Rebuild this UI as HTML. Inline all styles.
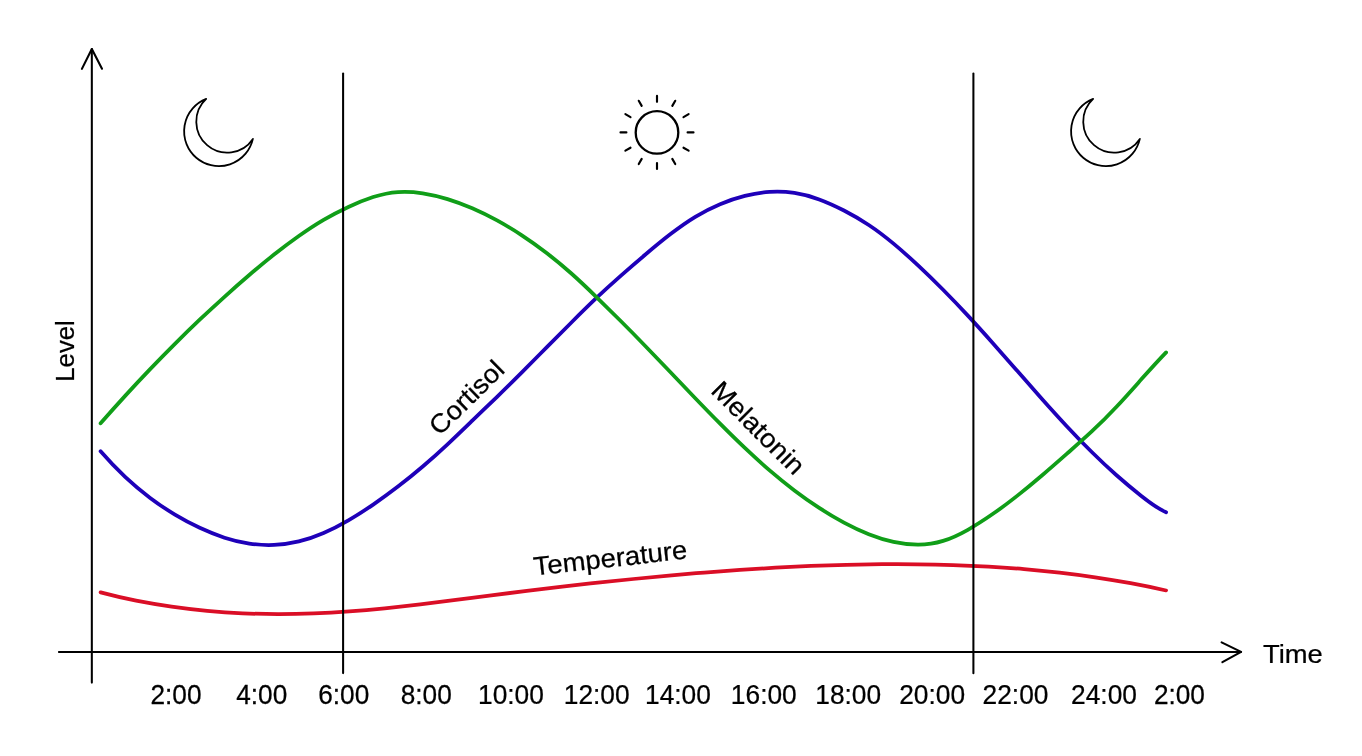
<!DOCTYPE html>
<html lang="en"><head><meta charset="utf-8">
<title>Circadian rhythm: cortisol, melatonin and temperature</title>
<style>
html,body{margin:0;padding:0;background:#fff;}
body{width:1362px;height:756px;overflow:hidden;}
svg{display:block;}
text{font-family:"Liberation Sans",sans-serif;fill:#000;stroke:#000;stroke-width:0.25;}
.ax{stroke:#000;stroke-width:2.05;fill:none;stroke-linecap:round;}
.ar{stroke-linejoin:round;stroke-linecap:round;stroke-width:2.1;}
.ic{stroke:#000;stroke-width:1.8;fill:none;stroke-linejoin:round;stroke-linecap:round;}
.cv{fill:none;stroke-linecap:round;stroke-linejoin:round;}
</style></head><body>
<svg width="1362" height="756" viewBox="0 0 1362 756">
<rect width="1362" height="756" fill="#fff"/>
<path class="cv" stroke="#1e00b9" stroke-width="3.75" d="M100.60 451.27C108.86 460.77 117.12 469.35 125.38 477.08C133.64 484.81 141.90 491.70 150.16 497.91C158.42 504.12 166.68 509.64 174.94 514.60C183.20 519.56 191.46 523.94 199.72 527.79C207.98 531.64 216.24 534.99 224.50 537.67C232.76 540.36 241.01 542.36 249.27 543.58C257.53 544.80 265.79 545.26 274.05 544.91C282.31 544.57 290.57 543.42 298.83 541.44C307.09 539.45 315.35 536.60 323.61 533.02C331.87 529.45 340.13 525.17 348.39 520.37C356.65 515.57 364.91 510.25 373.17 504.60C381.43 498.95 389.69 492.95 397.95 486.60C406.21 480.24 414.47 473.54 422.73 466.49C430.99 459.44 439.25 452.02 447.51 444.29C455.77 436.56 464.03 428.57 472.29 420.60C480.55 412.64 488.81 404.77 497.07 396.78C505.32 388.80 513.58 380.65 521.84 372.37C530.10 364.09 538.36 355.71 546.62 347.37C554.88 339.02 563.14 330.70 571.40 322.47C579.66 314.25 587.92 306.12 596.18 298.23C604.44 290.35 612.70 282.84 620.96 275.60C629.22 268.36 637.48 261.28 645.74 254.29C654.00 247.30 662.26 240.47 670.52 234.10C678.78 227.73 687.04 221.84 695.30 216.83C703.56 211.83 711.82 207.65 720.08 204.19C728.34 200.74 736.60 198.00 744.86 195.92C753.12 193.84 761.38 192.44 769.63 191.90C777.89 191.36 786.15 191.68 794.41 192.92C802.67 194.17 810.93 196.39 819.19 199.42C827.45 202.46 835.71 206.26 843.97 210.51C852.23 214.77 860.49 219.53 868.75 225.02C877.01 230.51 885.27 236.80 893.53 243.66C901.79 250.52 910.05 257.91 918.31 265.63C926.57 273.34 934.83 281.42 943.09 289.76C951.35 298.11 959.61 306.74 967.87 315.61C976.13 324.49 984.39 333.63 992.65 342.91C1000.91 352.20 1009.17 361.63 1017.43 371.05C1025.69 380.47 1033.94 389.89 1042.20 399.16C1050.46 408.43 1058.72 417.56 1066.98 426.41C1075.24 435.26 1083.50 443.84 1091.76 452.03C1100.02 460.21 1108.28 467.97 1116.54 475.27C1124.80 482.57 1133.06 489.45 1141.32 495.98C1149.58 502.51 1157.84 508.59 1166.10 512.32"/>
<path class="cv" stroke="#109e18" stroke-width="3.75" d="M100.60 423.34C108.86 413.91 117.12 404.67 125.38 395.64C133.64 386.60 141.90 377.77 150.16 369.14C158.42 360.51 166.68 352.08 174.94 343.84C183.20 335.61 191.46 327.57 199.72 319.72C207.98 311.88 216.24 304.23 224.50 296.77C232.76 289.31 241.01 282.04 249.27 274.98C257.53 267.93 265.79 261.11 274.05 254.59C282.31 248.08 290.57 241.87 298.83 236.05C307.09 230.22 315.35 224.74 323.61 219.89C331.87 215.04 340.13 210.85 348.39 206.98C356.65 203.10 364.91 199.68 373.17 197.03C381.43 194.39 389.69 192.60 397.95 192.04C406.21 191.49 414.47 192.00 422.73 193.28C430.99 194.55 439.25 196.58 447.51 199.11C455.77 201.64 464.03 204.72 472.29 208.29C480.55 211.86 488.81 215.92 497.07 220.44C505.32 224.96 513.58 229.91 521.84 235.32C530.10 240.73 538.36 246.60 546.62 252.96C554.88 259.31 563.14 266.16 571.40 273.52C579.66 280.89 587.92 288.76 596.18 296.81C604.44 304.86 612.70 313.03 620.96 321.27C629.22 329.52 637.48 337.90 645.74 346.43C654.00 354.96 662.26 363.62 670.52 372.29C678.78 380.96 687.04 389.65 695.30 398.25C703.56 406.86 711.82 415.37 720.08 423.69C728.34 432.00 736.60 440.13 744.86 447.95C753.12 455.77 761.38 463.28 769.63 470.39C777.89 477.50 786.15 484.20 794.41 490.46C802.67 496.73 810.93 502.55 819.19 507.92C827.45 513.29 835.71 518.20 843.97 522.63C852.23 527.05 860.49 530.98 868.75 534.24C877.01 537.51 885.27 540.12 893.53 541.91C901.79 543.70 910.05 544.71 918.31 544.67C926.57 544.62 934.83 543.48 943.09 540.91C951.35 538.34 959.61 534.42 967.87 529.77C976.13 525.12 984.39 519.80 992.65 514.07C1000.91 508.34 1009.17 502.15 1017.43 495.64C1025.69 489.13 1033.94 482.30 1042.20 475.26C1050.46 468.23 1058.72 461.00 1066.98 453.69C1075.24 446.37 1083.50 439.08 1091.76 431.43C1100.02 423.77 1108.28 415.58 1116.54 406.75C1124.80 397.92 1133.06 388.61 1141.32 379.37C1149.58 370.13 1157.84 360.97 1166.10 352.40"/>
<path class="cv" stroke="#da0e26" stroke-width="3.75" d="M100.60 592.35C112.44 595.52 124.28 598.23 136.12 600.56C147.96 602.88 159.79 604.84 171.63 606.53C183.47 608.22 195.31 609.63 207.15 610.76C218.99 611.89 230.83 612.73 242.67 613.27C254.51 613.81 266.34 614.07 278.18 614.07C290.02 614.08 301.86 613.83 313.70 613.36C325.54 612.90 337.38 612.22 349.22 611.36C361.06 610.50 372.89 609.45 384.73 608.27C396.57 607.09 408.41 605.77 420.25 604.37C432.09 602.97 443.93 601.48 455.77 599.96C467.61 598.44 479.44 596.89 491.28 595.36C503.12 593.83 514.96 592.33 526.80 590.88C538.64 589.42 550.48 588.01 562.32 586.64C574.16 585.28 585.99 583.95 597.83 582.68C609.67 581.40 621.51 580.17 633.35 578.99C645.19 577.82 657.03 576.68 668.87 575.61C680.71 574.54 692.54 573.52 704.38 572.57C716.22 571.61 728.06 570.73 739.90 569.91C751.74 569.10 763.58 568.36 775.42 567.70C787.26 567.04 799.09 566.46 810.93 565.98C822.77 565.49 834.61 565.09 846.45 564.80C858.29 564.50 870.13 564.30 881.97 564.21C893.81 564.11 905.64 564.13 917.48 564.26C929.32 564.39 941.16 564.64 953.00 565.02C964.84 565.41 976.68 565.93 988.52 566.60C1000.36 567.28 1012.19 568.10 1024.03 569.10C1035.87 570.10 1047.71 571.27 1059.55 572.63C1071.39 573.99 1083.23 575.54 1095.07 577.30C1106.91 579.06 1118.74 581.02 1130.58 583.21C1142.42 585.39 1154.26 587.81 1166.10 590.46"/>
<g class="ax">
<path d="M91.83 682.6V49"/>
<path class="ar" d="M81.9 68.9L91.83 49L102 68.7"/>
<path d="M58.9 651.9H1241"/>
<path class="ar" d="M1221.6 642.4L1241.1 651.9L1222.4 662.2"/>
<path d="M343.1 73.6V673.1"/>
<path d="M973.4 73.6V673.2"/>
</g>
<g class="ic">
<path d="M206.20 98.90A34.81 34.81 0 1 0 252.90 138.90A30.95 30.95 0 1 1 206.20 98.90Z"/>
<path d="M1093.15 98.90A34.81 34.81 0 1 0 1139.85 138.90A30.95 30.95 0 1 1 1093.15 98.90Z"/>
<circle cx="657.0" cy="132.4" r="21.3" style="stroke-width:2.3"/>
<path d="M657.00 101.80L657.00 95.90M672.30 105.90L675.25 100.79M683.50 117.10L688.61 114.15M687.60 132.40L693.50 132.40M683.50 147.70L688.61 150.65M672.30 158.90L675.25 164.01M657.00 163.00L657.00 168.90M641.70 158.90L638.75 164.01M630.50 147.70L625.39 150.65M626.40 132.40L620.50 132.40M630.50 117.10L625.39 114.15M641.70 105.90L638.75 100.79" style="stroke-width:2.15"/>
</g>
<g font-size="27.1" text-anchor="middle">
<text transform="translate(176.00 703.6) scale(0.9680 1)">2:00</text>
<text transform="translate(261.75 703.6) scale(0.9680 1)">4:00</text>
<text transform="translate(343.75 703.6) scale(0.9680 1)">6:00</text>
<text transform="translate(426.25 703.6) scale(0.9680 1)">8:00</text>
<text transform="translate(510.95 703.6) scale(0.9720 1)">10:00</text>
<text transform="translate(596.70 703.6) scale(0.9720 1)">12:00</text>
<text transform="translate(677.95 703.6) scale(0.9720 1)">14:00</text>
<text transform="translate(763.80 703.6) scale(0.9720 1)">16:00</text>
<text transform="translate(848.20 703.6) scale(0.9720 1)">18:00</text>
<text transform="translate(932.15 703.6) scale(0.9720 1)">20:00</text>
<text transform="translate(1015.50 703.6) scale(0.9720 1)">22:00</text>
<text transform="translate(1104.00 703.6) scale(0.9720 1)">24:00</text>
<text transform="translate(1179.40 703.6) scale(0.9680 1)">2:00</text>
</g>
<text transform="translate(1263 662.6) scale(1.045 1)" font-size="26.2">Time</text>
<text transform="translate(74.3 381.7) rotate(-90) scale(0.982 1)" font-size="26.2">Level</text>
<text transform="translate(439.6 436.6) rotate(-44.5) scale(1.05 1)" font-size="26.2">Cortisol</text>
<text transform="translate(709.7 392.1) rotate(45) scale(1.05 1)" font-size="26.2">Melatonin</text>
<text transform="translate(534.6 575.6) rotate(-6.4) scale(1.05 1)" font-size="26.2">Temperature</text>
</svg></body></html>
